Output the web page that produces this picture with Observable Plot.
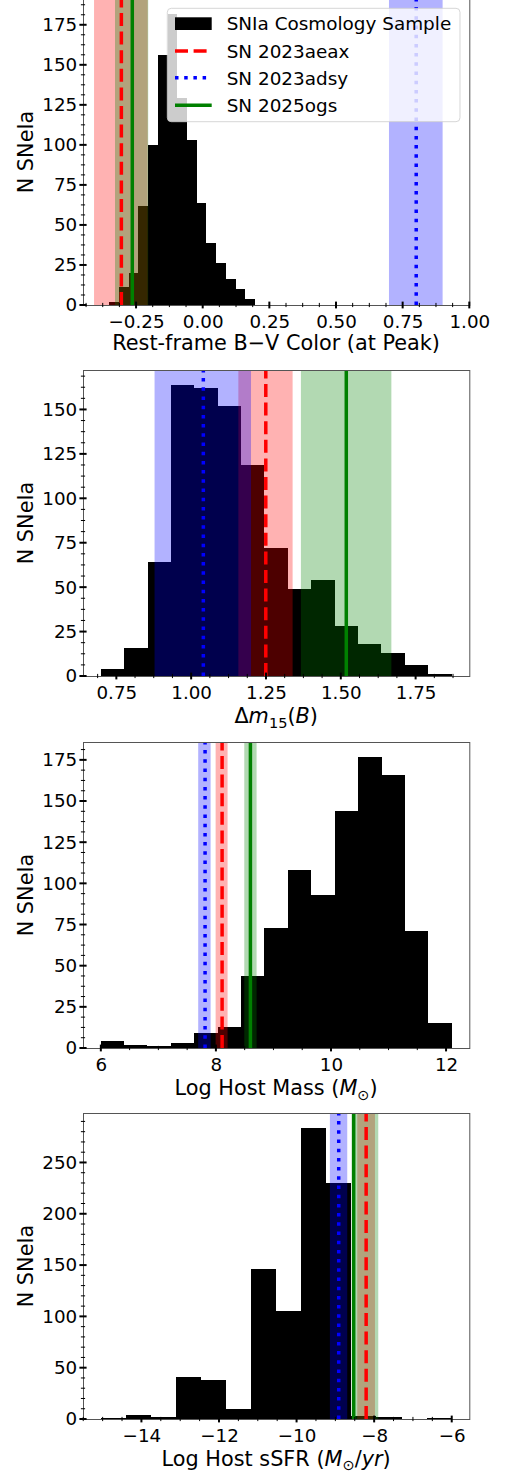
<!DOCTYPE html>
<html><head><meta charset="utf-8">
<script src="https://cdn.jsdelivr.net/npm/d3@7"></script>
<script src="https://cdn.jsdelivr.net/npm/@observablehq/plot@0.6"></script>
<style>
body{margin:0;background:#fff;}
#root{position:relative;width:505px;height:1475px;overflow:hidden;background:#fff;}
#root svg{position:absolute;left:0;}
</style></head><body><div id="root"></div>
<script>
// ---------- data ----------
const legendSample = "SNIa Cosmology Sample";
const snNames = ["SN 2023aeax", "SN 2023adsy", "SN 2025ogs"];
const snColors = ["#ff0000", "#0000ff", "#008000"];

// Panel 1: rest-frame B-V colour at peak
const colorRange = [-0.3502, 0.1960];
const colorCounts = [2, 11, 20, 62, 100, 156, 182, 129, 103, 64, 39, 26, 16, 10, 4];
const colorSN = [-0.307, 0.799, -0.266];
const colorLo = [-0.4076, 0.6987, -0.329];
const colorHi = [-0.2063, 0.8999, -0.2045];
const colorXTicks = [-0.25, 0, 0.25, 0.5, 0.75, 1.0];
const colorYTicks = [0, 25, 50, 75, 100, 125, 150, 175];

// Panel 2: Delta m15(B)
const dm15Range = [0.698, 1.870];
const dm15Counts = [4, 16, 64, 164, 162, 152, 119, 72, 49, 54, 28, 18, 13, 6, 1];
const dm15SN = [1.2477, 1.039, 1.5167];
const dm15Lo = [1.1577, 0.8777, 1.3667];
const dm15Hi = [1.339, 1.2, 1.669];
const dm15XTicks = [0.75, 1.0, 1.25, 1.5, 1.75];
const dm15YTicks = [0, 25, 50, 75, 100, 125, 150];

// Panel 3: log host mass
const massRange = [5.995, 12.099];
const massCounts = [4, 2, 1, 3, 9, 13, 44, 73, 108, 93, 144, 177, 166, 71, 15];
const massSN = [8.099, 7.803, 8.591];
const massLo = [7.995, 7.692, 8.493];
const massHi = [8.203, 7.908, 8.707];
const massXTicks = [6, 8, 10, 12];
const massYTicks = [0, 25, 50, 75, 100, 125, 150, 175];

// Panel 4: log host sSFR
const ssfrRange = [-15.053, -6.0];
const ssfrCounts = [1, 4, 2, 41, 38, 10, 146, 105, 284, 230, 3, 2, 0, 1];
const ssfrSN = [-8.219, -8.926, -8.54];
const ssfrLo = [-8.436, -9.141, -8.581];
const ssfrHi = [-7.979, -8.694, -7.894];
const ssfrXTicks = [-14, -12, -10, -8, -6];
const ssfrYTicks = [0, 50, 100, 150, 200, 250];

// ---------- styling / layout ----------
const FONT = "DejaVu Sans";
const TICK_FS = 18.3, LABEL_FS = 20.8, LEGEND_FS = 18.4;
const W = 505, ML = 83, MR = 35.7, MT = 10, FH = 306, MB = 55;
const dashes = ["13,5.6", "3.5,5.7", null];
const LW = 3.5;

function minorTicks(domain, step, majors) {
  const lo = Math.ceil(domain[0] / step - 1e-9), hi = Math.floor(domain[1] / step + 1e-9);
  const out = [];
  for (let k = lo; k <= hi; k++) {
    const v = k * step;
    if (!majors.some(m => Math.abs(m - v) < 1e-9)) out.push(v);
  }
  return out;
}

function ticksMark(xMaj, xMin, yMaj, yMin) {
  return (index, scales, values, dim) => {
    const g = d3.create("svg:g").attr("stroke", "black");
    const L = dim.marginLeft, B = dim.height - dim.marginBottom;
    const line = (x1, y1, x2, y2, w) => g.append("line")
      .attr("x1", x1).attr("y1", y1).attr("x2", x2).attr("y2", y2).attr("stroke-width", w);
    yMin.forEach(v => line(L - 2.1, scales.y(v), L + 2.1, scales.y(v), 1));
    yMaj.forEach(v => line(L - 3.6, scales.y(v), L + 3.6, scales.y(v), 2));
    xMin.forEach(v => line(scales.x(v), B - 2.1, scales.x(v), B + 2.1, 1));
    xMaj.forEach(v => line(scales.x(v), B - 3.4, scales.x(v), B + 3.4, 2));
    return g.node();
  };
}

function labelsMark(parts, baseOff) {
  return (index, scales, values, dim) => {
    const g = d3.create("svg:g").attr("fill", "black")
      .attr("font-family", FONT).attr("font-size", LABEL_FS);
    const cx = (dim.marginLeft + dim.width - dim.marginRight) / 2;
    const B = dim.height - dim.marginBottom;
    const t = g.append("text").attr("x", cx).attr("y", B + baseOff).attr("text-anchor", "middle");
    let shift = 0;
    parts.forEach(p => {
      const s = t.append("tspan").text(p.t);
      if (p.i) s.attr("font-style", "italic");
      const target = p.sub ? 4.5 : 0;
      if (p.sub) s.attr("font-size", LABEL_FS * 0.7);
      if (target !== shift) { s.attr("dy", target - shift); shift = target; }
    });
    g.append("text")
      .attr("transform", `translate(33,${(dim.marginTop + B) / 2}) rotate(-90)`)
      .attr("text-anchor", "middle").text("N SNeIa");
    return g.node();
  };
}

function legendMark(offY) {
  return () => {
    const g = d3.create("svg:g").attr("font-family", FONT).attr("font-size", LEGEND_FS)
      .attr("text-anchor", "start");
    g.append("rect").attr("x", 167.3).attr("y", 8.3 + offY).attr("width", 292.7).attr("height", 113.4)
      .attr("rx", 4).attr("fill", "white").attr("fill-opacity", 0.8)
      .attr("stroke", "#cccccc").attr("stroke-opacity", 0.8).attr("stroke-width", 1);
    const centers = [23.7, 51.1, 77.8, 105.2];
    g.append("rect").attr("x", 175).attr("y", 17.3 + offY).attr("width", 36.7).attr("height", 12.7).attr("fill", "black");
    snNames.forEach((n, i) => {
      const l = g.append("line").attr("x1", 175).attr("x2", 211.7)
        .attr("y1", centers[i + 1] + offY).attr("y2", centers[i + 1] + offY)
        .attr("stroke", snColors[i]).attr("stroke-width", LW);
      if (dashes[i]) l.attr("stroke-dasharray", dashes[i]);
    });
    [legendSample, ...snNames].forEach((n, i) => {
      g.append("text").attr("x", 226.7).attr("y", centers[i] + 6.7 + offY)
        .attr("text-anchor", "start").attr("fill", "black").text(n);
    });
    return g.node();
  };
}

function panel(cfg) {
  const n = cfg.counts.length;
  const w = (cfg.range[1] - cfg.range[0]) / n;
  const bins = cfg.counts.map((c, i) => ({x0: cfg.range[0] + i * w, x1: cfg.range[0] + (i + 1) * w, count: c}));
  const sn = cfg.sn.map((v, i) => ({name: snNames[i], value: v, lo: cfg.lo[i], hi: cfg.hi[i]}));
  const xMin = minorTicks(cfg.xDomain, cfg.xMinStep, cfg.xMaj);
  const yMin = minorTicks([0, cfg.yTop], cfg.yMinStep, cfg.yMaj);
  const marks = [
    Plot.rect(bins, {x1: "x0", x2: "x1", y1: 0, y2: "count", fill: "black", shapeRendering: "crispEdges"})
  ];
  sn.forEach((d, i) => marks.push(Plot.rect([d], {x1: "lo", x2: "hi", fill: snColors[i], fillOpacity: 0.3})));
  sn.forEach((d, i) => marks.push(Plot.ruleX([d], {
    x: "value", y1: 0, y2: cfg.yTop, stroke: snColors[i], strokeWidth: LW,
    strokeDasharray: dashes[i] || undefined
  })));
  marks.push(Plot.frame({stroke: "#555", strokeWidth: 1}));
  marks.push(ticksMark(cfg.xMaj, xMin, cfg.yMaj, yMin));
  marks.push(Plot.axisX(cfg.xMaj, {tickSize: 0, tickPadding: 9.6, tickFormat: cfg.xFmt, label: null}));
  marks.push(Plot.axisY(cfg.yMaj, {tickSize: 0, tickPadding: 6.3, tickFormat: d3.format("d"), label: null}));
  marks.push(labelsMark(cfg.label, cfg.labelOff));
  if (cfg.legend) marks.push(legendMark(MT - cfg.frameTop));
  const svg = Plot.plot({
    width: W, height: MT + FH + MB,
    marginLeft: ML, marginRight: MR, marginTop: MT, marginBottom: MB,
    x: {domain: cfg.xDomain},
    y: {domain: [0, cfg.yTop]},
    style: {fontFamily: FONT, fontSize: TICK_FS + "px", color: "black", background: "transparent", overflow: "visible"},
    marks
  });
  svg.style.top = (cfg.frameTop - MT) + "px";
  document.getElementById("root").appendChild(svg);
}

const f2 = d3.format(".2f"), fd = d3.format("d");

panel({range: colorRange, counts: colorCounts, sn: colorSN, lo: colorLo, hi: colorHi,
  xDomain: [-0.449, 1.0], yTop: 191.1, xMaj: colorXTicks, xMinStep: 0.0625, yMaj: colorYTicks, yMinStep: 6.25,
  xFmt: f2, frameTop: -1, labelOff: 44.5, legend: true,
  label: [{t: "Rest-frame B\u2212V Color (at Peak)"}]});

panel({range: dm15Range, counts: dm15Counts, sn: dm15SN, lo: dm15Lo, hi: dm15Hi,
  xDomain: [0.6386, 1.9294], yTop: 172.2, xMaj: dm15XTicks, xMinStep: 0.0625, yMaj: dm15YTicks, yMinStep: 6.25,
  xFmt: f2, frameTop: 370.3, labelOff: 47.3,
  label: [{t: "\u0394"}, {t: "m", i: true}, {t: "15", sub: true}, {t: "("}, {t: "B", i: true}, {t: ")"}]});

panel({range: massRange, counts: massCounts, sn: massSN, lo: massLo, hi: massHi,
  xDomain: [5.690, 12.404], yTop: 185.85, xMaj: massXTicks, xMinStep: 0.5, yMaj: massYTicks, yMinStep: 6.25,
  xFmt: fd, frameTop: 742, labelOff: 47.2,
  label: [{t: "Log Host Mass ("}, {t: "M", i: true}, {t: "\u2299", sub: true}, {t: ")"}]});

panel({range: ssfrRange, counts: ssfrCounts, sn: ssfrSN, lo: ssfrLo, hi: ssfrHi,
  xDomain: [-15.506, -5.547], yTop: 298.2, xMaj: ssfrXTicks, xMinStep: 0.5, yMaj: ssfrYTicks, yMinStep: 10,
  xFmt: fd, frameTop: 1112.6, labelOff: 46.7,
  label: [{t: "Log Host sSFR ("}, {t: "M", i: true}, {t: "\u2299", sub: true}, {t: "/"}, {t: "yr", i: true}, {t: ")"}]});
</script></body></html>
